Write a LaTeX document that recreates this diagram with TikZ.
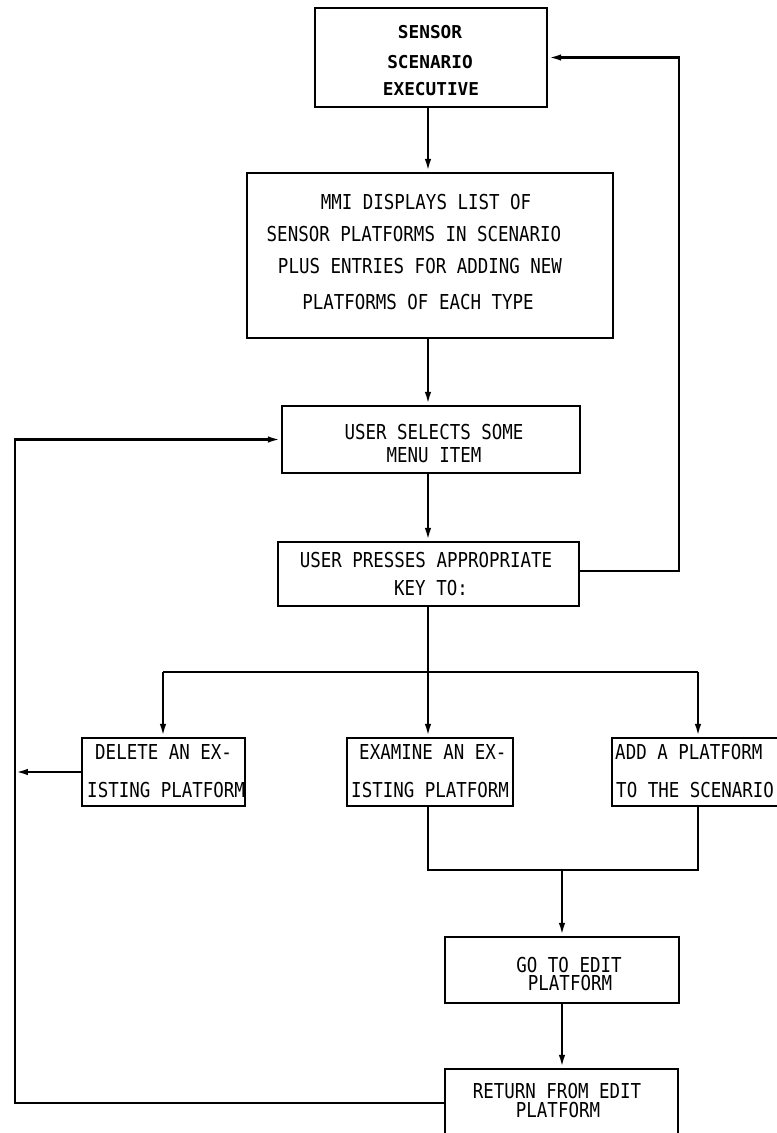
\documentclass[tikz,border=0pt]{standalone}
\usepackage{fontspec}
\usetikzlibrary{arrows.meta}
\newfontfamily\plotfont[FakeStretch=0.85]{DejaVu Sans Mono}
\newfontfamily\headfont{DejaVu Sans Mono}
\begin{document}
\begin{tikzpicture}[x=0.02cm,y=-0.02cm,
  line width=1.4pt,
  box/.style={draw, rectangle, inner sep=0pt, line width=1.4pt},
  arr/.style={-{Latex[length=2.6mm,width=1.3mm]}},
  txt/.style={font=\plotfont\fontsize{11.7}{14}\selectfont, inner sep=0pt, anchor=base},
  txtl/.style={txt, anchor=base west},
  head/.style={font=\headfont\bfseries\fontsize{10.1}{12}\selectfont, inner sep=0pt, anchor=base}]
\useasboundingbox (0,0) rectangle (777,1133);
\clip (0,0) rectangle (777,1133);

% boxes
\node[box, minimum width=4.64cm, minimum height=1.98cm] (b1) at (431,57.5) {};
\node[box, minimum width=7.32cm, minimum height=3.30cm] (b2) at (430,255.5) {};
\node[box, minimum width=5.96cm, minimum height=1.34cm] (b3) at (431,439.5) {};
\node[box, minimum width=6.02cm, minimum height=1.28cm] (b4) at (428.5,574) {};
\node[box, minimum width=3.26cm, minimum height=1.36cm] (del) at (163.5,772) {};
\node[box, minimum width=3.32cm, minimum height=1.36cm] (exam) at (430,772) {};
\node[box, minimum width=3.36cm, minimum height=1.36cm] (add) at (696,772) {};
\node[box, minimum width=4.68cm, minimum height=1.32cm] (go) at (562,970) {};
\node[box, minimum width=4.66cm, minimum height=1.52cm] (ret) at (561.5,1107) {};

% texts
\node[head] (t1a) at (430,38) {SENSOR};
\node[head] (t1b) at (430,68) {SCENARIO};
\node[head] (t1c) at (431,95) {EXECUTIVE};

\node[txt] (t2a) at (426,209) {MMI DISPLAYS LIST OF};
\node[txt] (t2b) at (414,241) {SENSOR PLATFORMS IN SCENARIO};
\node[txt] (t2c) at (420,273) {PLUS ENTRIES FOR ADDING NEW};
\node[txt] (t2d) at (418,309) {PLATFORMS OF EACH TYPE};

\node[txt] (t3a) at (434,439) {USER SELECTS SOME};
\node[txt] (t3b) at (434,462) {MENU ITEM};

\node[txt] (t4a) at (426,567) {USER PRESSES APPROPRIATE};
\node[txt] (t4b) at (431,595) {KEY TO:};

\node[txtl] (t5a) at (94,759) {DELETE AN EX-};
\node[txtl] (t5b) at (86,797) {ISTING PLATFORM};
\node[txtl] (t6a) at (358,759) {EXAMINE AN EX-};
\node[txtl] (t6b) at (350,797) {ISTING PLATFORM};
\node[txtl] (t7a) at (614,759) {ADD A PLATFORM};
\node[txtl] (t7b) at (615,797) {TO THE SCENARIO};

\node[txt] (t8a) at (569,972) {GO TO EDIT};
\node[txt] (t8b) at (570,990) {PLATFORM};
\node[txt] (t9a) at (557,1098) {RETURN FROM EDIT};
\node[txt] (t9b) at (558,1117) {PLATFORM};

% routing points
\coordinate (spine) at (428,0);
\coordinate (bl) at (163,672);
\coordinate (bc) at (428,672);
\coordinate (br) at (698,672);
\coordinate (ml) at (428,870);
\coordinate (mc) at (562,870);
\coordinate (mr) at (698,870);
\coordinate (lbot) at (15,1103);
\coordinate (ltop) at (15,439.5);
\coordinate (rbot) at (679,571);
\coordinate (rtop) at (679,57.5);

% main flow
\draw[arr] (b1.south -| spine) -- (b2.north -| spine);
\draw[arr] (b2.south -| spine) -- (b3.north -| spine);
\draw[arr] (b3.south -| spine) -- (b4.north -| spine);
\draw[arr] (b4.south -| spine) -- (exam.north -| spine);
\draw (bl) -- (br);
\draw[arr] (bl) -- (del.north -| bl);
\draw[arr] (br) -- (add.north -| br);

% merge into edit
\draw (exam.south -| ml) -- (ml) -- (mr) -- (add.south -| mr);
\draw[arr] (mc) -- (go.north -| mc);
\draw[arr] (go.south -| mc) -- (ret.north -| mc);

% return loops
\draw[arr] (ret.west |- lbot) -- (lbot) -- (ltop) -- (b3.west);
\draw[arr] (del.west) -- (del.west -| lbot);
\draw[arr] (b4.east |- rbot) -- (rbot) -- (rtop) -- (b1.east);
\end{tikzpicture}
\end{document}
